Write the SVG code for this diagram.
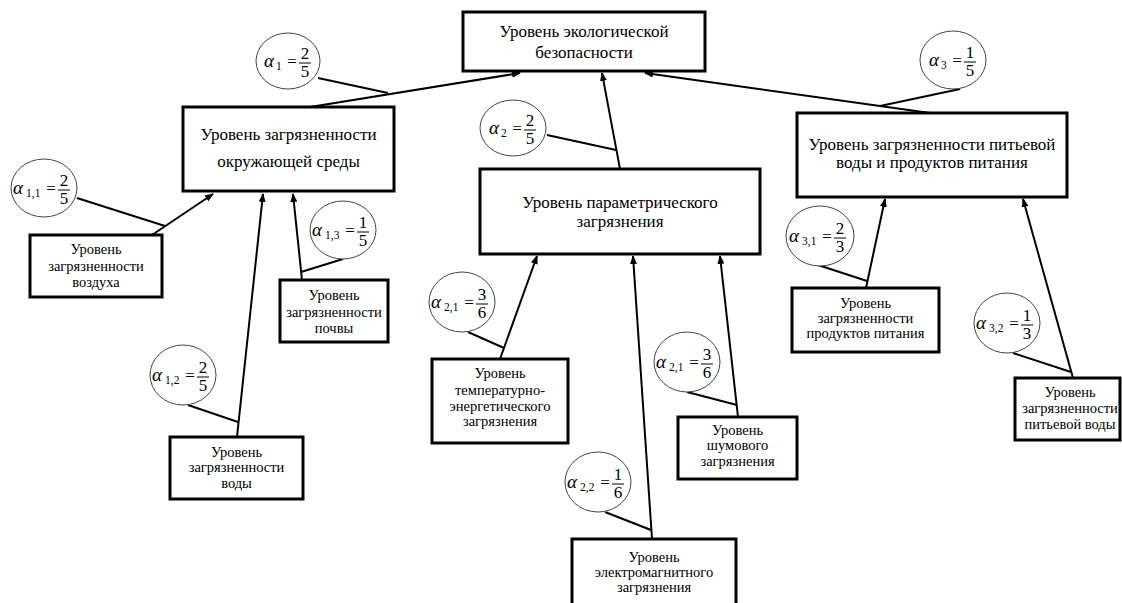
<svg xmlns="http://www.w3.org/2000/svg" width="1122" height="603" viewBox="0 0 1122 603">
  <style>
    .box { fill: #fff; stroke: #000; stroke-width: 3; }
    .lbl { font-family: "Liberation Serif", "Times New Roman", serif; fill: #000; text-anchor: middle; }
    .big { font-size: 17px; }
    .small { font-size: 14.5px; }
    .edge { stroke: #000; stroke-width: 2; fill: none; }
    .arrow { marker-end: url(#head); }
    .wt { fill: #fff; stroke: #444; stroke-width: 1; }
    .m { font-family: "Liberation Serif", "Times New Roman", serif; fill: #000; }
    .al { font-size: 19px; font-style: italic; }
    .sb { font-size: 11.5px; }
    .eq { font-size: 17px; text-anchor: middle; }
    .fr { font-size: 17px; text-anchor: middle; }
    .bar { stroke: #000; stroke-width: 1; }
  </style>
  <defs>
    <marker id="head" markerWidth="9" markerHeight="7" refX="8" refY="3.5" orient="auto" markerUnits="userSpaceOnUse">
      <path d="M0,0 L9,3.5 L0,7 z" fill="#000"/>
    </marker>
  </defs>
  <rect width="1122" height="603" fill="#fff"/>

  <!-- connectors: arrows from sub-levels to parent levels, plus weight leader lines -->
  <g id="connectors">
    <line class="edge arrow" x1="310" y1="107" x2="520" y2="73"/>
    <line class="edge arrow" x1="620" y1="169" x2="602" y2="73"/>
    <line class="edge arrow" x1="930" y1="113" x2="645" y2="73"/>
    <line class="edge arrow" x1="152" y1="235" x2="213" y2="194"/>
    <line class="edge arrow" x1="237" y1="437" x2="263" y2="194"/>
    <line class="edge arrow" x1="302" y1="280" x2="293" y2="194"/>
    <line class="edge arrow" x1="500" y1="359" x2="537" y2="256"/>
    <line class="edge arrow" x1="652" y1="539" x2="633" y2="256"/>
    <line class="edge arrow" x1="738" y1="417" x2="720" y2="256"/>
    <line class="edge arrow" x1="866" y1="288" x2="885" y2="199"/>
    <line class="edge arrow" x1="1073" y1="378" x2="1023" y2="199"/>

    <line class="edge" x1="318" y1="78" x2="388" y2="93"/>
    <line class="edge" x1="547" y1="135" x2="616" y2="150"/>
    <line class="edge" x1="960" y1="89" x2="880" y2="106"/>
    <line class="edge" x1="77" y1="198" x2="165" y2="226"/>
    <line class="edge" x1="343" y1="259" x2="301" y2="272"/>
    <line class="edge" x1="188" y1="405" x2="238" y2="422"/>
    <line class="edge" x1="468" y1="332" x2="504" y2="348"/>
    <line class="edge" x1="687" y1="392" x2="737" y2="405"/>
    <line class="edge" x1="605" y1="512" x2="651" y2="530"/>
    <line class="edge" x1="818" y1="265" x2="867" y2="281"/>
    <line class="edge" x1="1013" y1="353" x2="1071" y2="372"/>
  </g>

  <!-- level boxes -->
  <g id="n-top">
    <rect class="box" x="463" y="12" width="242" height="59"/>
    <text class="lbl big" x="584" y="37">Уровень экологической</text>
    <text class="lbl big" x="584" y="58">безопасности</text>
  </g>
  <g id="n-env">
    <rect class="box" x="183" y="107" width="211" height="84"/>
    <text class="lbl big" x="288.5" y="140">Уровень загрязненности</text>
    <text class="lbl big" x="288.5" y="167">окружающей среды</text>
  </g>
  <g id="n-param">
    <rect class="box" x="480" y="169" width="280" height="85"/>
    <text class="lbl big" x="620" y="208">Уровень параметрического</text>
    <text class="lbl big" x="620" y="227">загрязнения</text>
  </g>
  <g id="n-waterfood">
    <rect class="box" x="797" y="113" width="270" height="84"/>
    <text class="lbl big" x="932" y="150">Уровень загрязненности питьевой</text>
    <text class="lbl big" x="932" y="168">воды и продуктов питания</text>
  </g>
  <g id="n-air">
    <rect class="box" x="30" y="235" width="132" height="62"/>
    <text class="lbl small" x="96" y="254">Уровень</text>
    <text class="lbl small" x="96" y="271">загрязненности</text>
    <text class="lbl small" x="96" y="287">воздуха</text>
  </g>
  <g id="n-soil">
    <rect class="box" x="280" y="280" width="108" height="62"/>
    <text class="lbl small" x="334" y="300">Уровень</text>
    <text class="lbl small" x="334" y="317">загрязненности</text>
    <text class="lbl small" x="334" y="333">почвы</text>
  </g>
  <g id="n-water">
    <rect class="box" x="170" y="437" width="133" height="62"/>
    <text class="lbl small" x="236.5" y="457">Уровень</text>
    <text class="lbl small" x="236.5" y="472">загрязненности</text>
    <text class="lbl small" x="236.5" y="488">воды</text>
  </g>
  <g id="n-thermal">
    <rect class="box" x="432" y="359" width="136" height="84"/>
    <text class="lbl small" x="500" y="378">Уровень</text>
    <text class="lbl small" x="500" y="395">температурно-</text>
    <text class="lbl small" x="500" y="411">энергетического</text>
    <text class="lbl small" x="500" y="426">загрязнения</text>
  </g>
  <g id="n-em">
    <rect class="box" x="572" y="539" width="164" height="72"/>
    <text class="lbl small" x="654" y="562">Уровень</text>
    <text class="lbl small" x="654" y="577">электромагнитного</text>
    <text class="lbl small" x="654" y="592">загрязнения</text>
  </g>
  <g id="n-noise">
    <rect class="box" x="678" y="417" width="119" height="62"/>
    <text class="lbl small" x="737.5" y="435">Уровень</text>
    <text class="lbl small" x="737.5" y="450">шумового</text>
    <text class="lbl small" x="737.5" y="466">загрязнения</text>
  </g>
  <g id="n-food">
    <rect class="box" x="792" y="288" width="147" height="64"/>
    <text class="lbl small" x="865.5" y="308">Уровень</text>
    <text class="lbl small" x="865.5" y="323">загрязненности</text>
    <text class="lbl small" x="865.5" y="338">продуктов питания</text>
  </g>
  <g id="n-drink">
    <rect class="box" x="1015" y="378" width="105" height="62"/>
    <text class="lbl small" x="1070" y="397">Уровень</text>
    <text class="lbl small" x="1070" y="413">загрязненности</text>
    <text class="lbl small" x="1070" y="429">питьевой воды</text>
  </g>

  <!-- weight coefficients -->
  <g id="w-a1" transform="translate(288,61)">
    <ellipse class="wt" rx="32" ry="28"/>
    <text class="m al" x="-24" y="6">α</text><text class="m sb" x="-12" y="9">1</text>
    <text class="m eq" x="4" y="6">=</text>
    <text class="m fr" x="17" y="-2">2</text><line class="bar" x1="11" y1="2" x2="23" y2="2"/><text class="m fr" x="17" y="16">5</text>
  </g>
  <g id="w-a2" transform="translate(513,128)">
    <ellipse class="wt" rx="33" ry="28"/>
    <text class="m al" x="-24" y="6">α</text><text class="m sb" x="-12" y="9">2</text>
    <text class="m eq" x="4" y="6">=</text>
    <text class="m fr" x="17" y="-2">2</text><line class="bar" x1="11" y1="2" x2="23" y2="2"/><text class="m fr" x="17" y="16">5</text>
  </g>
  <g id="w-a3" transform="translate(953,60)">
    <ellipse class="wt" rx="33" ry="29"/>
    <text class="m al" x="-24" y="6">α</text><text class="m sb" x="-12" y="9">3</text>
    <text class="m eq" x="4" y="6">=</text>
    <text class="m fr" x="17" y="-2">1</text><line class="bar" x1="11" y1="2" x2="23" y2="2"/><text class="m fr" x="17" y="16">5</text>
  </g>
  <g id="w-a11" transform="translate(44,188)">
    <ellipse class="wt" rx="33" ry="29"/>
    <text class="m al" x="-31" y="6">α</text><text class="m sb" x="-18" y="9">1,1</text>
    <text class="m eq" x="7" y="6">=</text>
    <text class="m fr" x="20" y="-2">2</text><line class="bar" x1="14" y1="2" x2="26" y2="2"/><text class="m fr" x="20" y="16">5</text>
  </g>
  <g id="w-a13" transform="translate(343,230)">
    <ellipse class="wt" rx="33" ry="29"/>
    <text class="m al" x="-31" y="6">α</text><text class="m sb" x="-18" y="9">1,3</text>
    <text class="m eq" x="7" y="6">=</text>
    <text class="m fr" x="20" y="-2">1</text><line class="bar" x1="14" y1="2" x2="26" y2="2"/><text class="m fr" x="20" y="16">5</text>
  </g>
  <g id="w-a12" transform="translate(183,375)">
    <ellipse class="wt" rx="33" ry="30"/>
    <text class="m al" x="-31" y="6">α</text><text class="m sb" x="-18" y="9">1,2</text>
    <text class="m eq" x="7" y="6">=</text>
    <text class="m fr" x="20" y="-2">2</text><line class="bar" x1="14" y1="2" x2="26" y2="2"/><text class="m fr" x="20" y="16">5</text>
  </g>
  <g id="w-a21" transform="translate(462,302)">
    <ellipse class="wt" rx="33" ry="30"/>
    <text class="m al" x="-31" y="6">α</text><text class="m sb" x="-18" y="9">2,1</text>
    <text class="m eq" x="7" y="6">=</text>
    <text class="m fr" x="20" y="-2">3</text><line class="bar" x1="14" y1="2" x2="26" y2="2"/><text class="m fr" x="20" y="16">6</text>
  </g>
  <g id="w-a21b" transform="translate(687,362)">
    <ellipse class="wt" rx="33" ry="30"/>
    <text class="m al" x="-31" y="6">α</text><text class="m sb" x="-18" y="9">2,1</text>
    <text class="m eq" x="7" y="6">=</text>
    <text class="m fr" x="20" y="-2">3</text><line class="bar" x1="14" y1="2" x2="26" y2="2"/><text class="m fr" x="20" y="16">6</text>
  </g>
  <g id="w-a22" transform="translate(598,482)">
    <ellipse class="wt" rx="33" ry="30"/>
    <text class="m al" x="-31" y="6">α</text><text class="m sb" x="-18" y="9">2,2</text>
    <text class="m eq" x="7" y="6">=</text>
    <text class="m fr" x="20" y="-2">1</text><line class="bar" x1="14" y1="2" x2="26" y2="2"/><text class="m fr" x="20" y="16">6</text>
  </g>
  <g id="w-a31" transform="translate(820,236)">
    <ellipse class="wt" rx="34" ry="30"/>
    <text class="m al" x="-31" y="6">α</text><text class="m sb" x="-18" y="9">3,1</text>
    <text class="m eq" x="7" y="6">=</text>
    <text class="m fr" x="20" y="-2">2</text><line class="bar" x1="14" y1="2" x2="26" y2="2"/><text class="m fr" x="20" y="16">3</text>
  </g>
  <g id="w-a32" transform="translate(1007,323)">
    <ellipse class="wt" rx="33" ry="30"/>
    <text class="m al" x="-31" y="6">α</text><text class="m sb" x="-18" y="9">3,2</text>
    <text class="m eq" x="7" y="6">=</text>
    <text class="m fr" x="20" y="-2">1</text><line class="bar" x1="14" y1="2" x2="26" y2="2"/><text class="m fr" x="20" y="16">3</text>
  </g>
</svg>
